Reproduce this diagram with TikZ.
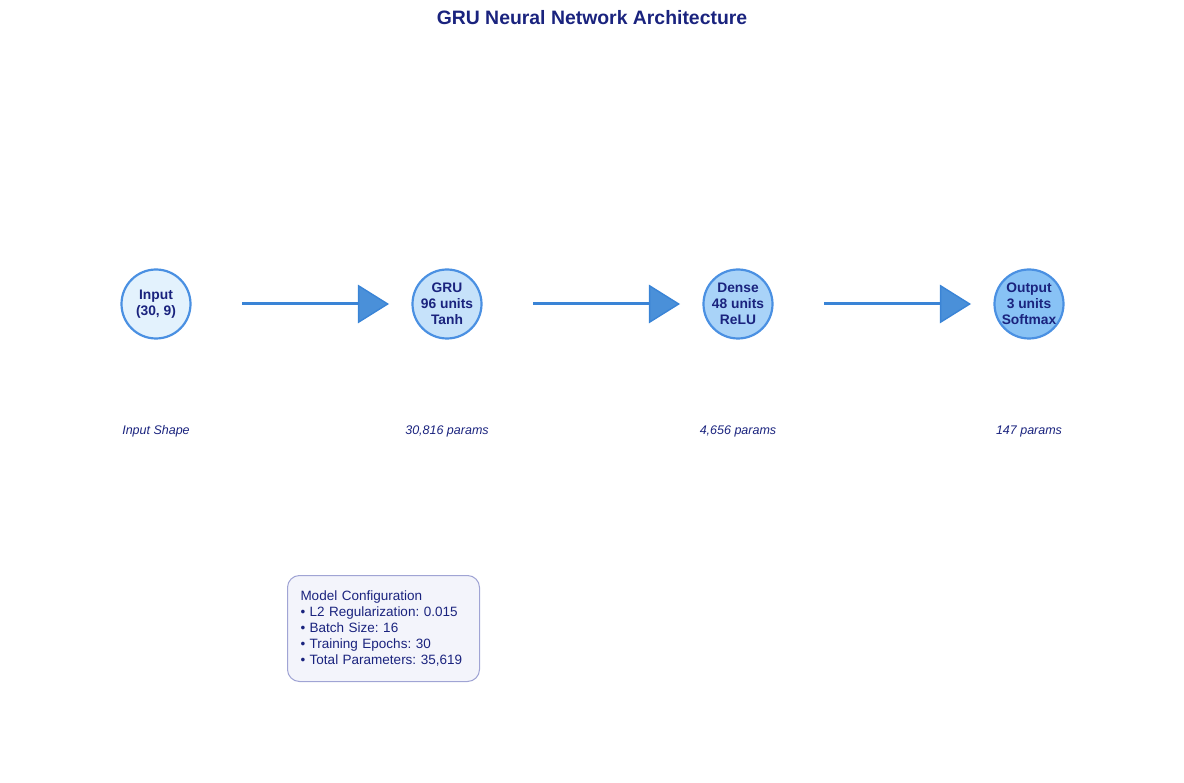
\documentclass[tikz,border=0pt]{standalone}
\usepackage{fontspec}
\setmainfont{Liberation Sans}
\frenchspacing
\usetikzlibrary{shapes.geometric}
\definecolor{navy}{HTML}{1A237E}
\definecolor{edgeblue}{HTML}{4A90E2}
\definecolor{arrowfill}{HTML}{4A90D9}
\definecolor{arrowedge}{HTML}{3A84D6}
\definecolor{fillA}{HTML}{E3F2FD}
\definecolor{fillB}{HTML}{C6E2FA}
\definecolor{fillC}{HTML}{A9D3F8}
\definecolor{fillD}{HTML}{88C2F5}
\definecolor{boxfill}{HTML}{F3F4FB}
\definecolor{boxedge}{HTML}{A0A4D4}
\tikzset{
  x=1pt,y=-1pt,
  layer/.style={circle,draw=edgeblue,line width=2.2pt,minimum size=69pt,inner sep=0pt,
    text=navy,font=\fontsize{13.8}{16}\selectfont\bfseries,align=center},
  plabel/.style={text=navy,font=\fontsize{12.5}{14}\selectfont\itshape},
  conn/.style={draw=arrowedge,line width=3pt},
  head/.style={isosceles triangle,isosceles triangle apex angle=64,fill=arrowfill,draw=arrowedge,
    line width=1.4pt,minimum height=29pt,inner sep=0pt,anchor=apex},
}
\begin{document}
\begin{tikzpicture}
\useasboundingbox (0,0) rectangle (1184,783);
\node[text=navy,font=\fontsize{19.4}{22}\selectfont\bfseries] (title) at (592,18) {GRU Neural Network Architecture};
\node[layer,fill=fillA] (in) at (156,304) {Input\\(30, 9)};
\node[layer,fill=fillB] (gru) at (447,304) {GRU\\96 units\\Tanh};
\node[layer,fill=fillC] (dense) at (738,304) {Dense\\48 units\\ReLU};
\node[layer,fill=fillD] (out) at (1029,304) {Output\\3 units\\Softmax};
\node[plabel] (p1) at (156,431) {Input Shape};
\node[plabel] (p2) at (447,431) {30,816 params};
\node[plabel] (p3) at (738,431) {4,656 params};
\node[plabel] (p4) at (1029,431) {147 params};
\coordinate (a1s) at (242,304); \coordinate (a1e) at (389,304);
\coordinate (a2s) at (533,304); \coordinate (a2e) at (680,304);
\coordinate (a3s) at (824,304); \coordinate (a3e) at (971,304);
\draw[conn] (a1s) -- ([xshift=-25pt]a1e);
\draw[conn] (a2s) -- ([xshift=-25pt]a2e);
\draw[conn] (a3s) -- ([xshift=-25pt]a3e);
\node[head] (h1) at (a1e) {};
\node[head] (h2) at (a2e) {};
\node[head] (h3) at (a3e) {};
\node[draw=boxedge,fill=boxfill,line width=1pt,rounded corners=12pt,text=navy,
  font=\fontsize{13.5}{16.2}\selectfont,align=left,anchor=north west,
  minimum width=192pt,minimum height=106pt,inner xsep=13pt,inner ysep=9.5pt,text width=166pt] (cfg) at (287,575)
  {Model Configuration\\• L2 Regularization: 0.015\\• Batch Size: 16\\• Training Epochs: 30\\• Total Parameters: 35,619};
\end{tikzpicture}
\end{document}
